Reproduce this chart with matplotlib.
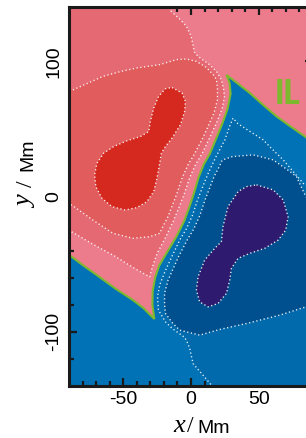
import numpy as np
import matplotlib; matplotlib.use("Agg")
import matplotlib.pyplot as plt

plt.rcParams["font.family"] = ["Liberation Sans", "DejaVu Sans"]
plt.rcParams["axes.unicode_minus"] = False

# level colours: positive 0..L1, L1..L2, L2..L3, >L3 ; negative likewise
POS = ["#EC7B8C", "#E56973", "#E15C5C", "#D5281F"]
NEG = ["#0072B5", "#006AAD", "#00508F", "#2E1A6E"]
C_IL = "#7DB92E"

# inversion line (Mm)
IL_x = [-95, -90, -80, -67.4, -55, -42.8, -35, -27, -28.5, -28.3, -26.5, -23.5, -18.2, -10.8, -5, -1, 2,
        5.5, 9.5, 13.8, 19, 23.5, 27, 29.2, 28.5, 26.1, 34, 43.4, 53, 63.1, 74, 84.7, 95]
IL_y = [-39.3, -43, -50.5, -59.5, -68.5, -76.5, -82.5, -90.5, -80, -70, -60, -51, -42, -29.6, -18, -7, 2,
        14, 24, 31.5, 44, 55, 65, 76, 84, 90, 84, 76.6, 68, 59.3, 51.5, 44, 36.5]

# positive contours
L1P_x = [-17.5, -15.7, -8, -3.4, 0, 1.5, 2.5, 5.2, 13.8, 18.8, 22.4, 24, 24.7, 23, 19, 14, 8, 3.5, -1, -5,
         -8.5, -13, -18.5, -25, -28.5, -30.5, -40, -47.7, -57, -67.4, -77, -87.1, -95]
L1P_y = [145, 138, 131, 126, 119, 112, 107, 103.7, 97.5, 92.6, 86.5, 80, 74, 65, 55, 44, 31.5, 24, 14, 2,
         -7, -18, -29.6, -42, -52, -59.3, -54, -49.3, -43.5, -38, -32.5, -26.5, -23]
L2P_x = [-95, -89.6, -77, -65, -52, -40.3, -23.1, -10.8, -3.4, 4, 11.4, 16.5, 18.8, 19.5, 19.5, 17, 13.5, 9,
         2.5, -2, -6.5, -10.5, -14, -17, -20.5, -23.1, -30.5, -42.8, -57.6, -72.4, -87.1, -95]
L2P_y = [76.5, 77.8, 83.5, 88.9, 92.5, 95.1, 97.6, 101.3, 101.8, 100, 95.5, 90, 86.4, 80, 71.6, 62, 54, 44,
         31.5, 24, 14, 2, -7, -14.8, -21.5, -27.1, -29.6, -30.8, -27.1, -17.3, -6.8, -2]
L3P_x = [-14.0, -6.6, -4.1, -4.7, -7.8, -14.0, -18.9, -21.9, -23.3, -25.1, -27.5, -32.5, -39.9, -48.5, -58.3,
         -65.7, -70.2, -71.1, -69.4, -64.5, -57.1, -47.3, -37.4, -31.2, -30.0, -27.5, -23.9, -18.9]
L3P_y = [80.7, 76.6, 70.4, 63.0, 53.1, 43.3, 37.0, 32.1, 23.5, 13.6, 3.7, -3.7, -8.1, -9.9, -7.4,
         -1.2, 7.4, 16.1, 24.7, 32.1, 37.0, 41.3, 44.4, 48.1, 55.6, 65.5, 74.1, 79.8]

# negative contours
L1N_x = [95, 82.7, 75, 68, 60, 53.2, 43, 34.5, 31, 28.5, 25, 18.5, 13, 8.5, 5, 1, -3.5, -8, -14, -19, -23,
         -24.7, -24, -22.4, -18.8, -13.8, -5.2, -3.4, -1, 1.5, 8, 16.2, 17.5]
L1N_y = [1, 9.9, 19, 27.2, 35, 42, 48.5, 54, 58, 52, 42, 29.6, 18, 7, -2, -14, -24, -31.5, -44, -55, -65,
         -74, -84, -86.5, -92.6, -97.5, -103.7, -106.1, -112, -123.4, -131, -140.7, -145]
L2N_x = [95, 84.7, 77.8, 72.4, 60.6, 45.8, 30.5, 23.1, 20.5, 17, 14, 10.5, 6.5, 2, -2.5, -9, -13.5, -17,
         -19.5, -19.5, -18.8, -14, -8.4, 6.4, 21.2, 40.9, 65.5, 84.7, 95]
L2N_y = [-8, 0, 14.8, 19, 27.2, 30.9, 29.6, 27.1, 21.5, 14.8, 7, -2, -14, -24, -31.5, -44, -54, -62,
         -71.6, -80, -86.4, -93, -98.7, -102.4, -98.2, -93.8, -87.6, -81.5, -78]
L3N_x = [48.3, 60.6, 68.0, 71.6, 69.9, 64.3, 54.4, 43.4, 34.7, 29.8, 28.6, 26.1, 19.9, 12.6, 6.4, 4.0, 5.2,
         10.1, 17.5, 22.4, 23.6, 27.3, 34.7, 40.9]
L3N_y = [8.7, 5.0, -2.4, -14.8, -24.7, -32.1, -38.2, -41.9, -45.6, -53.0, -61.7, -71.6, -79.0, -81.5, -77.8,
         -69.1, -59.3, -46.9, -38.2, -33.3, -22.2, -7.4, 3.7, 7.4]

W, H = 306, 438
fig = plt.figure(figsize=(W / 100, H / 100), dpi=100)
ax = fig.add_axes([69 / W, 52 / H, 244 / W, 378.7 / H])
ax.set_facecolor(NEG[0])

ax.fill(IL_x + [95, -95], IL_y + [145, 145], color=POS[0], lw=0, zorder=1)
ax.fill(L1P_x + [-95], L1P_y + [145], color=POS[1], lw=0, zorder=2)
ax.fill(L2P_x, L2P_y, color=POS[2], lw=0, zorder=3)
ax.fill(L3P_x, L3P_y, color=POS[3], lw=0, zorder=4)
ax.fill(L1N_x + [95], L1N_y + [-145], color=NEG[1], lw=0, zorder=2)
ax.fill(L2N_x, L2N_y, color=NEG[2], lw=0, zorder=3)
ax.fill(L3N_x, L3N_y, color=NEG[3], lw=0, zorder=4)

dot = dict(color="white", lw=1.0, ls=(0, (0.9, 1.8)), alpha=0.9, zorder=5)
for xs, ys in [(L1P_x, L1P_y), (L2P_x, L2P_y), (L1N_x, L1N_y), (L2N_x, L2N_y)]:
    ax.plot(xs, ys, **dot)
for xs, ys in [(L3P_x, L3P_y), (L3N_x, L3N_y)]:
    ax.plot(xs + xs[:1], ys + ys[:1], **dot)
ax.plot(IL_x, IL_y, color=C_IL, lw=1.5, zorder=6, solid_joinstyle="miter")
ax.text(71.4, 75.3, "IL", color=C_IL, fontsize=25, fontweight="bold", ha="center", va="center",
        family=["Roboto Condensed", "Liberation Sans Narrow", "Open Sans Condensed",
                "DejaVu Sans Condensed", "Liberation Sans"], zorder=7)

ax.set_xlim(-90, 90); ax.set_ylim(-140, 140)
ax.set_xticks([-50, 0, 50]); ax.set_xticks(np.arange(-80, 90, 10), minor=True)
ax.set_yticks([-100, 0, 100]); ax.set_yticks(np.arange(-120, 140, 20), minor=True)
ax.tick_params(which="both", direction="in", top=True, right=True, width=1.6, color="#1a1a1a",
               labelsize=14)
ax.tick_params(which="major", length=6)
ax.tick_params(which="minor", length=3.3)
ax.tick_params(axis="x", pad=3.5)
ax.tick_params(axis="y", pad=5)
for lab in ax.get_yticklabels():
    lab.set_rotation(90); lab.set_va("center")
for s in ax.spines.values():
    s.set_linewidth(2.2); s.set_color("#1a1a1a"); s.set_zorder(8)

# axis labels: italic serif variable, sans unit
fig.text(173 / W, 1 / H, "x", fontsize=19, family="Liberation Serif", style="italic", ha="left", va="bottom")
fig.text(187 / W, 1 / H, "/", fontsize=17, family="Liberation Serif", ha="left", va="bottom")
fig.text(197 / W, 1 / H, "Mm", fontsize=14, ha="left", va="bottom")
kw = dict(rotation=90, rotation_mode="anchor", ha="left", va="baseline")
fig.text(32 / W, (H - 208) / H, "y", fontsize=19, family="Liberation Serif", style="italic", **kw)
fig.text(32 / W, (H - 187) / H, "/", fontsize=17, family="Liberation Serif", **kw)
fig.text(32 / W, (H - 171) / H, "Mm", fontsize=14, **kw)

fig.savefig("out.png", dpi=100)
